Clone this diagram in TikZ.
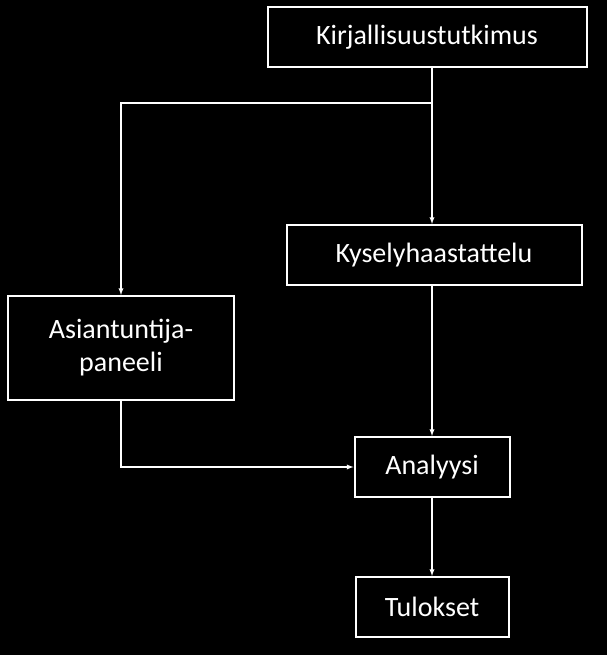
\documentclass[tikz,border=0pt]{standalone}
\usepackage{fontspec}
\setmainfont{Carlito}
\usetikzlibrary{arrows}
\begin{document}
\begin{tikzpicture}
	[
	x=1pt, y=-1pt,
	> = latex,
	box/.style = {draw=white, line width=2pt, text=white, align=center, inner sep=0pt,
		font=\fontsize{28}{33}\selectfont},
	link/.style = {draw=white, line width=1.3pt, ->}
	]
	\fill[black] (0,0) rectangle (607,655);
	\node[box, minimum width=319pt, minimum height=60pt] (kirj) at (427,37) {Kirjallisuustutkimus};
	\node[box, minimum width=295pt, minimum height=60pt] (kysely) at (434,255) {Kyselyhaastattelu};
	\node[box, minimum width=226pt, minimum height=104pt] (paneeli) at (121,348) {Asiantuntija-\\paneeli};
	\node[box, minimum width=155pt, minimum height=60pt] (analyysi) at (432,467) {Analyysi};
	\node[box, minimum width=153pt, minimum height=60pt] (tulokset) at (432,607) {Tulokset};
	\coordinate (haara) at (432,103);
	\draw[link] (kirj.south -| haara) -- (kysely.north -| haara);
	\draw[link] (haara) -| (paneeli.north);
	\draw[link] (kysely.south -| analyysi) -- (analyysi.north);
	\draw[link] (paneeli.south) |- (analyysi.west);
	\draw[link] (analyysi.south) -- (tulokset.north);
\end{tikzpicture}
\end{document}
